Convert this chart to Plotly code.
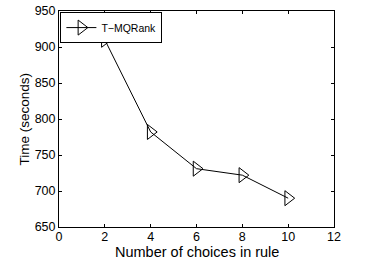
import plotly.graph_objects as go

choices = [2, 4, 6, 8, 10]
time_seconds = [910, 782, 731, 722, 690]
series_name = "T\u2212MQRank"
x_ticks = [0, 2, 4, 6, 8, 10, 12]
y_ticks = [650, 700, 750, 800, 850, 900, 950]
x_title = "Number of choices in rule"
y_title = "Time (seconds)"

fig = go.Figure()
fig.add_trace(go.Scatter(
    x=choices, y=time_seconds, mode="lines+markers", name=series_name,
    line=dict(color="black", width=1),
    marker=dict(symbol="triangle-right-open", size=13, color="black", line=dict(width=1)),
))

font = "Liberation Sans, Arial, Helvetica, sans-serif"
fig.update_layout(
    width=374, height=261,
    margin=dict(l=59, r=40, t=11, b=34),
    paper_bgcolor="white", plot_bgcolor="white",
    font=dict(family=font, size=12, color="black"),
    showlegend=True,
    legend=dict(x=0.005, y=0.995, xanchor="left", yanchor="top",
                bordercolor="black", borderwidth=1, bgcolor="white",
                font=dict(size=10.5), tracegroupgap=0, itemwidth=30),
    xaxis=dict(range=[0, 12], tickvals=x_ticks, showgrid=False, zeroline=False,
               showline=True, linecolor="black", linewidth=1, mirror="ticks",
               ticks="inside", ticklen=3, tickcolor="black", automargin=False,
               tickfont=dict(size=12.5), ticklabelstandoff=-2),
    yaxis=dict(range=[650, 950], tickvals=y_ticks, showgrid=False, zeroline=False,
               showline=True, linecolor="black", linewidth=1, mirror="ticks",
               ticks="inside", ticklen=3, tickcolor="black", automargin=False,
               tickfont=dict(size=12.5)),
    annotations=[
        dict(text=x_title, xref="paper", yref="paper", x=0.5, y=0,
             xanchor="center", yanchor="middle", yshift=-25, showarrow=False,
             font=dict(size=14.5)),
        dict(text=y_title, xref="paper", yref="paper", x=0, y=0.5,
             xanchor="center", yanchor="middle", xshift=-35.5, textangle=-90,
             showarrow=False, font=dict(size=13.5)),
    ],
)
fig.write_html("out.html", config={"displayModeBar": False},
               post_script="document.body.style.margin='0';")
